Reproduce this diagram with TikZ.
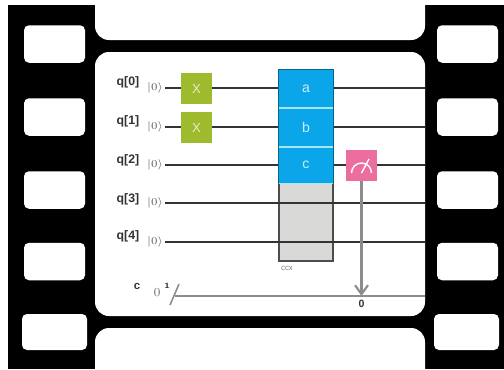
\documentclass[tikz,border=0pt]{standalone}
\usepackage{amsmath}
\usepackage{fontspec}
\setsansfont{Liberation Sans}
\usetikzlibrary{arrows.meta}
\definecolor{gatex}{HTML}{9DBB2C}
\definecolor{gateblue}{HTML}{0BA6EA}
\definecolor{gatepink}{HTML}{EC6E9F}
\definecolor{gategrey}{HTML}{D9D9D7}
\definecolor{lightcell}{HTML}{A5E6F5}
\tikzset{
  hole/.style={fill=white,rounded corners=0.1cm,minimum height=0.75cm,inner sep=0pt},
  wire/.style={draw=black!80,line width=1.2pt},
  xgate/.style={fill=gatex,text=white!75!gatex,minimum size=0.62cm,inner sep=0pt,font=\sffamily\fontsize{7.5}{8}\selectfont},
  cell/.style={fill=gateblue,text=white!80!gateblue,minimum width=1.08cm,inner sep=0pt,font=\sffamily\fontsize{8}{9}\selectfont},
  qlabel/.style={text=black!80,font=\sffamily\bfseries\fontsize{7}{8}\selectfont},
  ket/.style={text=black!65,font=\fontsize{6}{7}\selectfont},
  cwire/.style={draw=black!45,line width=1.2pt},
}

\begin{document}
\begin{tikzpicture}
  \useasboundingbox (0,0) rectangle (10.08,7.38);
  % film strip
  \fill[black] (0.16,0) rectangle (10.08,7.28);
  \fill[white] (1.9,7.38) [rounded corners=0.28cm] -- (1.9,6.58) -- (8.5,6.58) [sharp corners] -- (8.5,7.38) -- cycle;
  \fill[white] (1.9,0) [rounded corners=0.28cm] -- (1.9,0.82) -- (8.5,0.82) [sharp corners] -- (8.5,0) -- cycle;
  \fill[white,rounded corners=0.28cm] (1.9,1.06) rectangle (8.5,6.34);
  \foreach \i/\y in {1/6.5,2/5.04,3/3.58,4/2.15} {
    \node[hole,minimum width=1.22cm] (lhole\i) at (1.09,\y) {};
    \node[hole,minimum width=1.22cm] (rhole\i) at (9.35,\y) {};
  }
  \node[hole,minimum width=1.3cm,minimum height=0.72cm] (lhole5) at (1.09,0.74) {};
  \node[hole,minimum width=1.3cm,minimum height=0.72cm] (rhole5) at (9.33,0.74) {};

  % grey part of the gate goes under the wires
  \node[fill=gategrey,draw=black!70,line width=0.8pt,minimum width=1.08cm,minimum height=1.56cm,inner sep=0pt] (ccxbody) at (6.12,2.94) {};

  % qubit wires
  \foreach \i/\y/\ly in {0/5.62/5.74,1/4.84/4.96,2/4.08/4.18,3/3.32/3.40,4/2.54/2.66} {
    \node[qlabel] (q\i) at (2.56,\ly) {q[\i]};
    \node[ket] (ket\i) at (3.10,\y) {$|0\rangle$};
    \coordinate (start\i) at (3.3,\y);
    \coordinate (end\i) at (8.5,\y);
    \draw[wire] (start\i) -- (end\i);
  }

  % gates
  \node[xgate] (x0) at (3.93,5.61) {X};
  \node[xgate] (x1) at (3.93,4.83) {X};
  \node[cell,minimum height=0.76cm] (cella) at (6.12,5.6) {a};
  \node[cell,minimum height=0.78cm] (cellb) at (6.12,4.83) {b};
  \node[cell,minimum height=0.72cm] (cellc) at (6.12,4.08) {c};
  \draw[draw=black!40!gateblue,line width=0.8pt] (cellc.south west) -- (cella.north west) -- (cella.north east) -- (cellc.south east);
  \draw[lightcell,line width=1.2pt] (cella.south west) -- (cella.south east);
  \draw[lightcell,line width=1.2pt] (cellb.south west) -- (cellb.south east);
  \draw[lightcell,line width=0.6pt] (cellc.south west) -- (cellc.south east);
  \node[text=black!50,font=\sffamily\fontsize{4.5}{5}\selectfont] (ccxlabel) at (5.74,2.02) {ccx};

  % classical wire
  \coordinate (cstart) at (3.5,1.46);
  \coordinate (cend) at (8.5,1.46);
  \coordinate (cmeas) at (7.23,1.46);
  \coordinate (slasha) at (3.4,1.28);
  \coordinate (slashb) at (3.58,1.7);
  \draw[cwire] (cstart) -- (cend);
  \draw[cwire,line width=0.9pt] (slasha) -- (slashb);
  \node[qlabel,font=\sffamily\bfseries\fontsize{6.5}{7}\selectfont] (clabel) at (2.74,1.66) {c};
  \node[text=black!55,font=\fontsize{7}{8}\selectfont] (czero) at (3.14,1.52) {0};
  \node[font=\bfseries\fontsize{4.5}{5}\selectfont] (cone) at (3.34,1.66) {1};
  \node[font=\sffamily\bfseries\fontsize{6}{7}\selectfont,text=black!80] (cbit) at (7.23,1.3) {0};

  % measurement
  \node[fill=gatepink,minimum size=0.62cm,inner sep=0pt] (meas) at (7.23,4.07) {};
  \draw[white,line width=0.8pt] (7.03,3.92) arc (180:0:0.2);
  \draw[white,line width=0.8pt] (7.23,3.92) -- (7.38,4.2);
  \draw[cwire,-{Straight Barb[length=1.8mm,width=2.6mm]}] (meas.south) -- (cmeas);
\end{tikzpicture}
\end{document}
